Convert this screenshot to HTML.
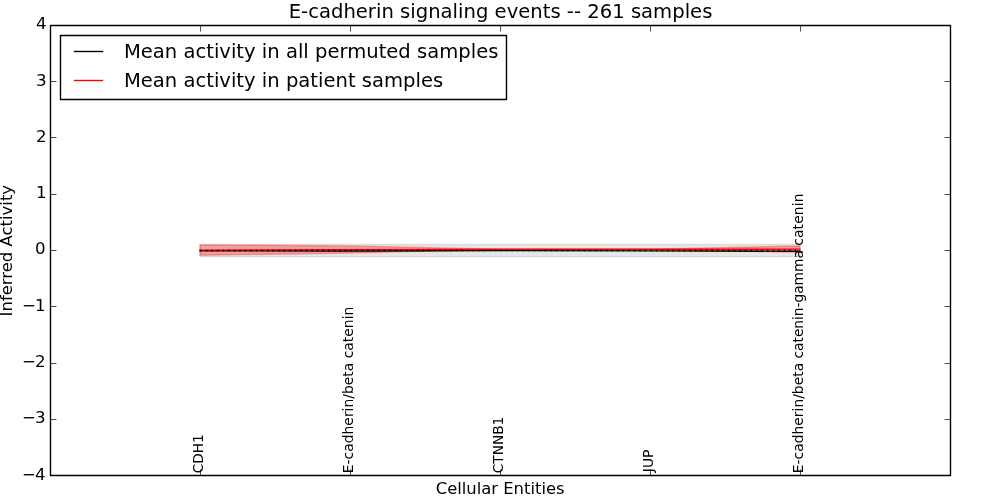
<!DOCTYPE html>
<html lang="en">
<head>
<meta charset="utf-8">
<title>E-cadherin signaling events -- 261 samples</title>
<style>
html,body{margin:0;padding:0;background:#fff;}
body{width:1000px;height:500px;overflow:hidden;}
svg{display:block;}
text{font-family:"DejaVu Sans","Bitstream Vera Sans","Liberation Sans",sans-serif;fill:#000;}
.t20{font-size:20px;}
.t17{font-size:16.667px;}
.t14{font-size:13.889px;}
.frame{fill:none;stroke:#000;stroke-width:1.389;stroke-linejoin:round;}
.tick{stroke:#000;stroke-width:0.694;fill:none;}
</style>
</head>
<body>
<svg width="1000" height="500" viewBox="0 0 1000 500">
<rect x="0" y="0" width="1000" height="500" fill="#fff"/>
<g id="plot">
<!-- shaded bands -->
<g id="bands">
<polygon points="200,244.45 800,244.45 800,256.75 200,256.75" fill="#808080" fill-opacity="0.2" stroke="#808080" stroke-opacity="0.2" stroke-width="1.389"/>
<polygon points="200,244.9 350,245.9 500,249.2 650,249.2 800,245.9 800,252.2 650,249.4 500,249.4 350,253.1 200,255.2" fill="#ff0000" fill-opacity="0.3" stroke="#ff0000" stroke-opacity="0.3" stroke-width="1.389"/>
</g>

<!-- mean lines -->
<g id="lines" fill="none">
<polyline points="200,250.74 350,251.05 500,250.65 650,250.82 800,251.3" stroke="#000" stroke-width="1.389" stroke-linecap="square"/>
<polyline points="200,250.08 350,249.57 500,249.3 650,249.3 800,249.15" stroke="#ff0000" stroke-width="1.389" stroke-linecap="square"/>
<line x1="200.4" y1="250.5" x2="800" y2="250.5" stroke="#000" stroke-width="1.389" stroke-dasharray="1.389 4.167"/>
</g>

<!-- axes frame -->
<rect class="frame" x="50.5" y="25.5" width="900" height="450"/>

<!-- ticks -->
<g id="ticks" class="tick">
<path d="M200.5,475.5v-6M350.5,475.5v-6M500.5,475.5v-6M650.5,475.5v-6M800.5,475.5v-6"/>
<path d="M200.5,25.5v6M350.5,25.5v6M500.5,25.5v6M650.5,25.5v6M800.5,25.5v6"/>
<path d="M50.5,81.5h6M50.5,137.5h6M50.5,194.5h6M50.5,250.5h6M50.5,306.5h6M50.5,363.5h6M50.5,419.5h6"/>
<path d="M950.5,81.5h-6M950.5,137.5h-6M950.5,194.5h-6M950.5,250.5h-6M950.5,306.5h-6M950.5,363.5h-6M950.5,419.5h-6"/>
</g>
</g>

<!-- y tick labels -->
<g id="ylabels" class="t17" text-anchor="end">
<text x="46.5" y="29">4</text>
<text x="46.5" y="86">3</text>
<text x="46.5" y="142">2</text>
<text x="46.5" y="198">1</text>
<text x="45.5" y="254">0</text>
<text x="45.5" y="311" textLength="23.56" lengthAdjust="spacing">−1</text>
<text x="45.5" y="367" textLength="23.56" lengthAdjust="spacing">−2</text>
<text x="45.5" y="423" textLength="23.56" lengthAdjust="spacing">−3</text>
<text x="45.5" y="480" textLength="23.56" lengthAdjust="spacing">−4</text>
</g>

<!-- x tick labels -->
<g id="xlabels" class="t14">
<text transform="translate(203.2,473.3) rotate(-90)" textLength="39.0" lengthAdjust="spacingAndGlyphs">CDH1</text>
<text transform="translate(353.2,473.2) rotate(-90)" textLength="166.5" lengthAdjust="spacingAndGlyphs">E-cadherin/beta catenin</text>
<text transform="translate(503.2,473.3) rotate(-90)" textLength="56.6" lengthAdjust="spacingAndGlyphs">CTNNB1</text>
<text transform="translate(653.2,472.2) rotate(-90)" textLength="22.6" lengthAdjust="spacingAndGlyphs">JUP</text>
<text transform="translate(803.2,473.2) rotate(-90)">E-cadherin/beta <tspan letter-spacing="-0.085">catenin-gamma</tspan><tspan dx="-0.3" letter-spacing="0.15"> catenin</tspan></text>
</g>

<!-- titles -->
<text class="t20" x="288.7" y="18" textLength="423.7" lengthAdjust="spacingAndGlyphs">E-cadherin signaling events -- 261 samples</text>
<text class="t17" x="435.7" y="494" textLength="128.9" lengthAdjust="spacingAndGlyphs">Cellular Entities</text>
<text class="t17" transform="translate(12.3,316.4) rotate(-90)" textLength="131.5" lengthAdjust="spacingAndGlyphs">Inferred Activity</text>

<!-- legend -->
<g id="legend">
<g>
<rect class="frame" x="60.5" y="35.5" width="446" height="64" style="fill:#fff"/>
<line x1="73.8" y1="51.5" x2="103.2" y2="51.5" stroke="#000" stroke-width="1.389"/>
<line x1="73.8" y1="80.5" x2="103.2" y2="80.5" stroke="#ff0000" stroke-width="1.389"/>
</g>
<text class="t20" x="123.9" y="58" textLength="374.5" lengthAdjust="spacingAndGlyphs">Mean activity in all permuted samples</text>
<text class="t20" x="123.9" y="87" textLength="319.3" lengthAdjust="spacingAndGlyphs">Mean activity in patient samples</text>
</g>
</svg>
</body>
</html>
